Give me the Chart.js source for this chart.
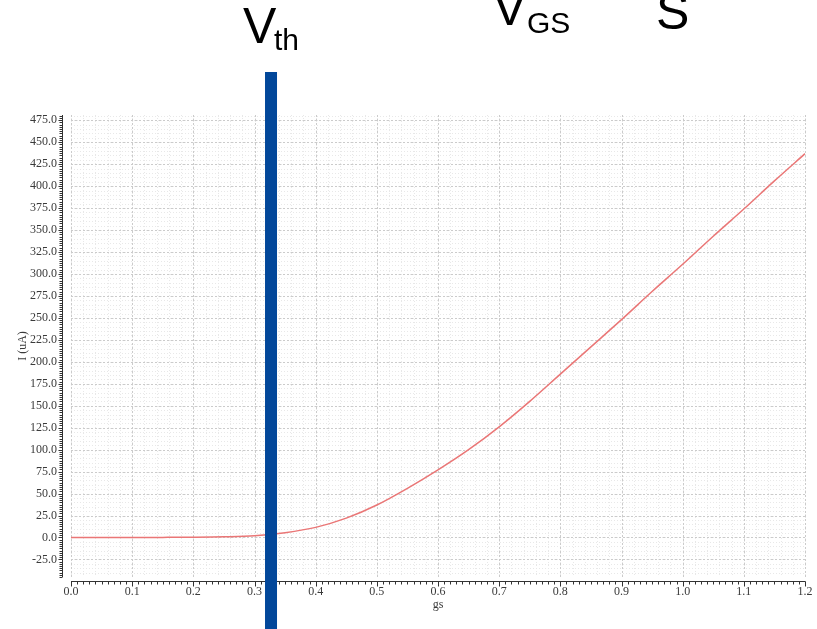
<!DOCTYPE html>
<html>
<head>
<meta charset="utf-8">
<script src="https://cdn.jsdelivr.net/npm/chart.js@4.4.1/dist/chart.umd.min.js"></script>
<style>
  html, body { margin: 0; padding: 0; background: #fff; }
  #chart { display: block; }
</style>
</head>
<body>
<canvas id="chart" width="817" height="629"></canvas>
<script>
// Gate voltage sweep and drain current (uA)
const vgs = [0.0, 0.05, 0.1, 0.15, 0.2, 0.25, 0.3, 0.35, 0.4, 0.45, 0.5, 0.55, 0.6,
             0.65, 0.7, 0.75, 0.8, 0.85, 0.9, 0.95, 1.0, 1.05, 1.1, 1.15, 1.2];
const current = [0, 0, 0, 0.1, 0.3, 0.8, 2.0, 5.5, 11.5, 22, 37, 56, 77,
                 100, 126, 155, 186, 217, 248, 280, 311, 343, 374, 406, 437];

// axis ticks
const xTickValues = [0.0, 0.1, 0.2, 0.3, 0.4, 0.5, 0.6, 0.7, 0.8, 0.9, 1.0, 1.1, 1.2];
const yTickValues = [-25, 0, 25, 50, 75, 100, 125, 150, 175, 200, 225, 250, 275,
                     300, 325, 350, 375, 400, 425, 450, 475];

// threshold marker
const vth = 0.327;

const tickFont = { family: "'Liberation Serif', 'DejaVu Serif', serif", size: 12 };
const textColor = '#3a3a3a';

const gridAndAxes = {
  id: 'gridAndAxes',
  beforeDatasetsDraw(chart) {
    const { ctx, chartArea: a, scales: { x, y } } = chart;
    const line = (x1, y1, x2, y2) => { ctx.beginPath(); ctx.moveTo(x1, y1); ctx.lineTo(x2, y2); ctx.stroke(); };
    ctx.save();
    ctx.lineWidth = 1;

    // minor grid
    ctx.strokeStyle = '#e8e8e8';
    ctx.setLineDash([1, 2]);
    for (let i = 0; i <= 60; i++) {
      const px = Math.round(x.getPixelForValue(i * 0.02)) + 0.5;
      line(px, a.top, px, a.bottom);
    }
    for (let v = -40; v <= 480; v += 5) {
      const py = Math.round(y.getPixelForValue(v)) + 0.5;
      line(a.left, py, a.right, py);
    }

    // major grid
    ctx.strokeStyle = '#cbcbcb';
    ctx.setLineDash([2, 2]);
    xTickValues.forEach(v => {
      const px = Math.round(x.getPixelForValue(v)) + 0.5;
      line(px, a.top, px, a.bottom);
    });
    yTickValues.forEach(v => {
      const py = Math.round(y.getPixelForValue(v)) + 0.5;
      line(a.left, py, a.right, py);
    });
    ctx.restore();
  },
  afterDraw(chart) {
    const { ctx, chartArea: a, scales: { x, y } } = chart;
    const line = (x1, y1, x2, y2) => { ctx.beginPath(); ctx.moveTo(x1, y1); ctx.lineTo(x2, y2); ctx.stroke(); };
    ctx.save();
    ctx.lineWidth = 1;
    ctx.strokeStyle = '#333';

    // left axis with ruler ticks
    const ax = Math.round(a.left) - 8.5;
    line(ax, a.top, ax, a.bottom);
    for (let v = -45; v <= 480; v += 2.5) {
      const py = Math.round(y.getPixelForValue(v)) + 0.5;
      line(ax - 3, py, ax, py);
    }
    yTickValues.forEach(v => {
      const py = Math.round(y.getPixelForValue(v)) + 0.5;
      line(ax - 4, py, ax, py);
    });

    // bottom axis
    const ay = Math.round(a.bottom) + 4.5;
    line(a.left, ay, a.right, ay);
    for (let i = 0; i <= 120; i++) {
      const px = Math.round(x.getPixelForValue(i * 0.01)) + 0.5;
      line(px, ay, px, ay + 3);
    }
    xTickValues.forEach(v => {
      const px = Math.round(x.getPixelForValue(v)) + 0.5;
      line(px, ay, px, ay + 5);
    });

    // Vth bar
    const bx = x.getPixelForValue(vth);
    ctx.fillStyle = '#02479a';
    ctx.fillRect(bx - 6, 72, 12, chart.height - 72);

    // overlay labels
    ctx.fillStyle = '#000';
    ctx.textAlign = 'left';
    ctx.textBaseline = 'alphabetic';
    const big = "50px 'Liberation Sans', Arial, sans-serif";
    const sub = "30px 'Liberation Sans', Arial, sans-serif";
    ctx.font = big;
    ctx.fillText('V', 243, 43);
    ctx.font = sub;
    ctx.fillText('th', 274, 50);
    ctx.font = big;
    ctx.fillText('V', 493, 25);
    ctx.font = sub;
    ctx.fillText('GS', 527, 33);
    ctx.font = big;
    ctx.fillText('S', 656, 29);
    ctx.restore();
  }
};

const ctx = document.getElementById('chart').getContext('2d');
new Chart(ctx, {
  type: 'line',
  data: {
    datasets: [{
      label: 'I',
      data: vgs.map((v, i) => ({ x: v, y: current[i] })),
      borderColor: 'rgb(234, 118, 118)',
      borderWidth: 1.5,
      pointRadius: 0,
      cubicInterpolationMode: 'monotone',
      fill: false
    }]
  },
  options: {
    responsive: false,
    devicePixelRatio: 1,
    animation: false,
    layout: { padding: { left: 0, right: 12, top: 115, bottom: 0 } },
    plugins: { legend: { display: false }, tooltip: { enabled: false } },
    scales: {
      x: {
        type: 'linear',
        min: 0,
        max: 1.2,
        afterFit: s => { s.height = 52; s.paddingLeft = 0; s.paddingRight = 0; },
        afterBuildTicks: s => { s.ticks = xTickValues.map(v => ({ value: v })); },
        grid: { display: false, drawTicks: false },
        border: { display: false },
        ticks: {
          autoSkip: false,
          maxRotation: 0,
          padding: 8,
          color: textColor,
          font: tickFont,
          callback: v => Number(v).toFixed(1)
        },
        title: {
          display: true,
          text: 'gs',
          color: textColor,
          font: tickFont,
          padding: { top: 0, bottom: 17 }
        }
      },
      y: {
        min: -45,
        max: 481,
        afterFit: s => { s.width = 71; },
        afterBuildTicks: s => { s.ticks = yTickValues.map(v => ({ value: v })); },
        grid: { display: false, drawTicks: false },
        border: { display: false },
        ticks: {
          autoSkip: false,
          padding: 14,
          color: textColor,
          font: tickFont,
          callback: v => Number(v).toFixed(1)
        },
        title: {
          display: true,
          text: 'I (uA)',
          color: textColor,
          font: tickFont,
          padding: { top: 16, bottom: 0 }
        }
      }
    }
  },
  plugins: [gridAndAxes]
});
</script>
</body>
</html>
